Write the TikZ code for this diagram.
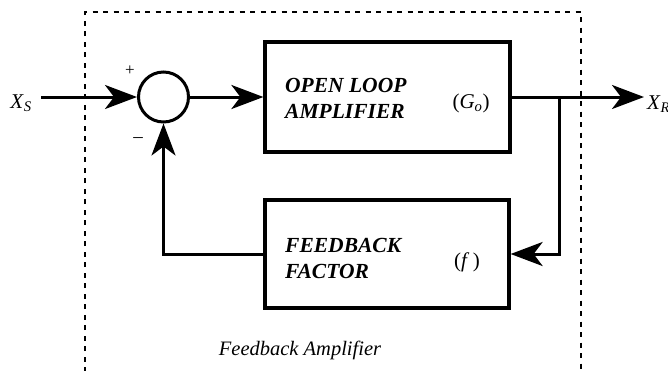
\documentclass[tikz,border=0pt]{standalone}
\usepackage{fontspec}
\setmainfont{Liberation Serif}
\usetikzlibrary{arrows.meta}
\begin{document}
\begin{tikzpicture}[x=1pt,y=-1pt,
  wire/.style={line width=3pt},
  arr/.style={wire,-{Stealth[length=32pt,width=24pt,inset=9pt]}},
  blk/.style={draw,line width=3.2pt,rectangle,inner sep=0pt},
  lbl/.style={font=\fontsize{21.5}{26}\selectfont\bfseries\itshape,align=left,anchor=west,inner sep=0pt},
  plain/.style={font=\fontsize{21}{24}\selectfont,inner sep=0pt},
  frame/.style={line width=2.2pt,dash pattern=on 5pt off 5.5pt}]
\useasboundingbox (0,0) rectangle (668,370);
\clip (0,0) rectangle (668,370);
% dashed frame
\draw[frame] (85,372) -- (85,12) -- (581,12) -- (581,372);
% blocks
\node[blk,minimum width=245pt,minimum height=110pt] (ol) at (387.5,97) {};
\node[blk,minimum width=244pt,minimum height=108pt] (fb) at (387,254) {};
\node[draw,circle,line width=3pt,minimum size=50pt,inner sep=0pt] (sum) at (163.5,97) {};
% texts
\node[lbl] (oltxt) at (285,98) {OPEN LOOP\\AMPLIFIER};
\node[plain] (go) at (471,103) {(\textit{G}\textsubscript{\textit{o}})};
\node[lbl] (fbtxt) at (285,258) {FEEDBACK\\FACTOR};
\node[plain] (ff) at (467,262) {(\textit{f}\,)};
\node[plain] (xs) at (21,103) {\textit{X}\textsubscript{\textit{S}}};
\node[plain,anchor=west] (xr) at (647,104) {\textit{X}\textsubscript{\textit{R}}};
\node[plain,font=\fontsize{20.5}{23}\selectfont\itshape] (cap) at (300,350) {Feedback Amplifier};
\node[plain,font=\fontsize{17}{19}\selectfont] (plus) at (130,71) {+};
\node[plain,font=\fontsize{19}{21}\selectfont] (minus) at (138,140) {–};
% connectors
\coordinate (in) at (41,97);
\coordinate (out) at (644,97);
\coordinate (br) at (559,97);
\draw[arr] (in) -- (sum.west);
\draw[arr] (sum.east) -- (ol.west);
\draw[arr] (ol.east) -- (out);
\draw[arr] (br) |- (fb.east);
\draw[arr] (fb.west) -| (sum.south);
\end{tikzpicture}
\end{document}
